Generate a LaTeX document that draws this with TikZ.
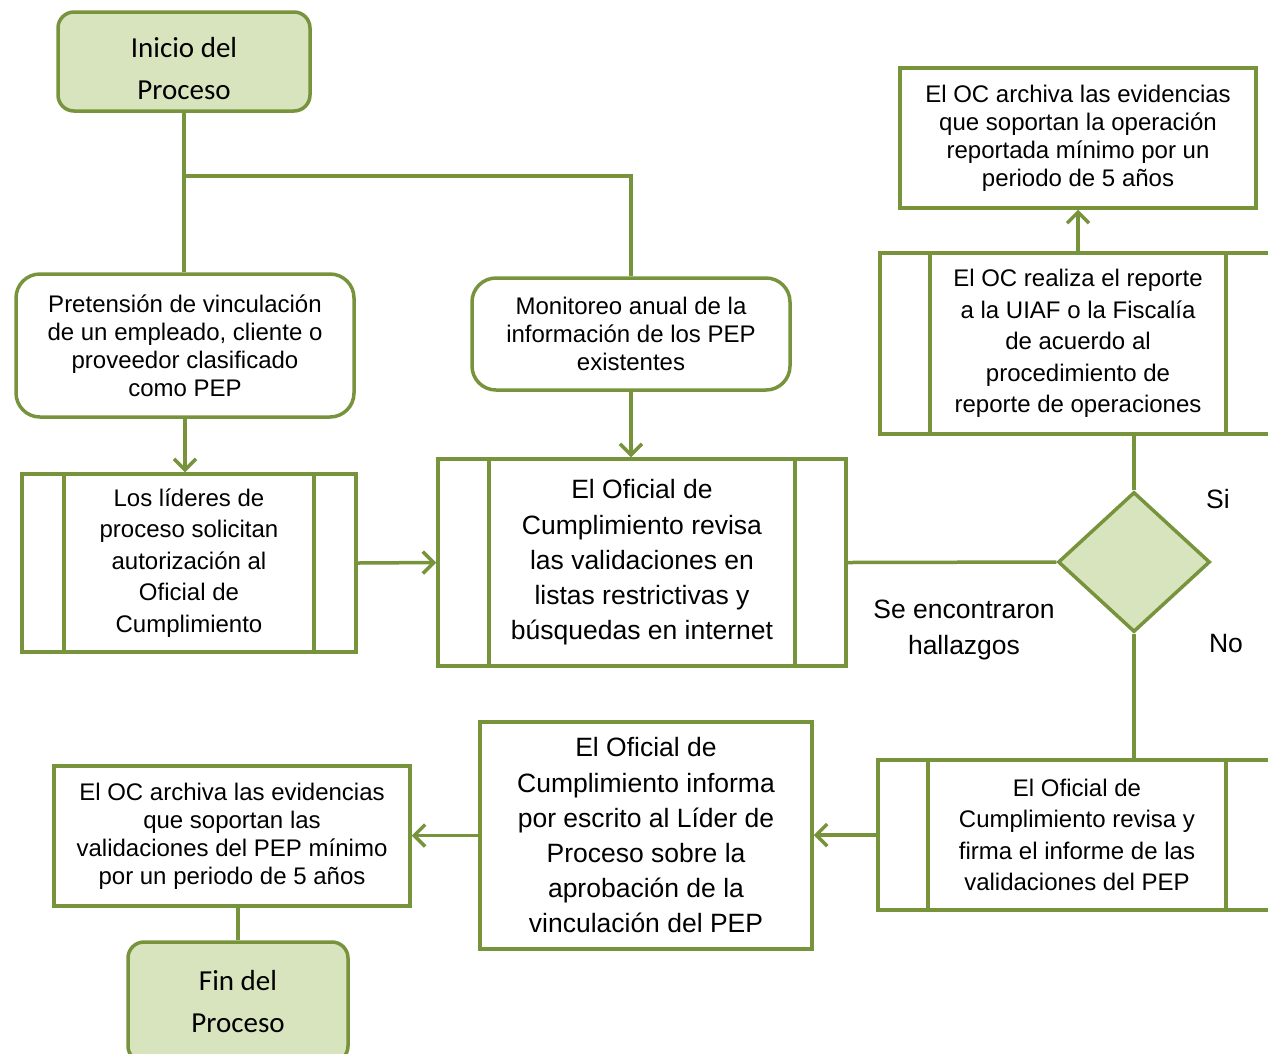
\documentclass[tikz,border=0pt]{standalone}
\usepackage{fontspec}
\setmainfont{Liberation Sans}
\newfontfamily\calibri{Carlito}
\usepackage{tikz}
\usetikzlibrary{positioning,%
  shapes.geometric,%
  arrows.meta,%
  calc}
\definecolor{oliva}{HTML}{77933C}
\definecolor{olivaclaro}{HTML}{D7E4BD}

\tikzset{
  linea/.style={draw=oliva, line width=3.5pt},
  flecha/.style={linea, -{Straight Barb[length=11pt,width=22pt,line width=3.5pt]}},
  terminal/.style={draw=oliva, line width=3.5pt, fill=olivaclaro, rounded corners=16pt,
    align=center, inner sep=0pt, font=\calibri\fontsize{29}{42}\selectfont},
  redondo/.style={draw=oliva, line width=3.5pt, rounded corners=24pt, align=center, inner sep=0pt},
  caja/.style={draw=oliva, line width=3.5pt, align=center, inner sep=0pt},
  proceso/.style={draw=oliva, line width=3.5pt, align=center, inner sep=0pt,
    path picture={\draw[oliva, line width=3.5pt]
      ([xshift=#1]path picture bounding box.north west) -- ([xshift=#1]path picture bounding box.south west)
      ([xshift=-#1]path picture bounding box.north east) -- ([xshift=-#1]path picture bounding box.south east);}},
  chico/.style={font=\fontsize{24}{28}\selectfont},
  medio/.style={font=\fontsize{24}{31.6}\selectfont},
  grande/.style={font=\fontsize{26.5}{35.2}\selectfont}
}

\begin{document}
\begin{tikzpicture}[x=1pt,y=-1pt]
  % Rahmen
  \useasboundingbox (0,0) rectangle (1268,1053);

  \node[terminal, minimum width=252pt, minimum height=99pt] (inicio) at (184,61.5) {\\[-8pt]Inicio del\\Proceso};
  \node[redondo, chico, minimum width=338pt, minimum height=143pt] (pretension) at (185,345.5)
    {Pretensión de vinculación\\de un empleado, cliente o\\proveedor clasificado\\como PEP};
  \node[redondo, chico, minimum width=318pt, minimum height=112pt] (monitoreo) at (631,334)
    {Monitoreo anual de la\\información de los PEP\\existentes};
  \node[proceso=42pt, medio, minimum width=334pt, minimum height=178pt] (lideres) at (189,563)
    {Los líderes de\\proceso solicitan\\autorización al\\Oficial de\\Cumplimiento};
  \node[proceso=51pt, grande, minimum width=408pt, minimum height=207pt] (revisa) at (642,562.5)
    {El Oficial de\\Cumplimiento revisa\\las validaciones en\\listas restrictivas y\\búsquedas en internet};
  \node[caja, chico, minimum width=356pt, minimum height=140pt] (archivaop) at (1078,138)
    {El OC archiva las evidencias\\que soportan la operación\\reportada mínimo por un\\periodo de 5 años};
  \node[proceso=50pt, medio, minimum width=396pt, minimum height=181pt] (reporte) at (1078,343.5)
    {El OC realiza el reporte\\a la UIAF o la Fiscalía\\de acuerdo al\\procedimiento de\\reporte de operaciones};
  \node[diamond, draw=oliva, line width=3.5pt, fill=olivaclaro, inner sep=0pt,
    minimum width=152pt, minimum height=140pt] (decision) at (1134,562) {};
  \node[proceso=50pt, medio, minimum width=398pt, minimum height=150pt] (firma) at (1077,835)
    {El Oficial de\\Cumplimiento revisa y\\firma el informe de las\\validaciones del PEP};
  \node[caja, grande, minimum width=332pt, minimum height=227pt] (informa) at (646,835.5)
    {El Oficial de\\Cumplimiento informa\\por escrito al Líder de\\Proceso sobre la\\aprobación de la\\vinculación del PEP};
  \node[caja, chico, minimum width=356pt, minimum height=140pt] (archivapep) at (232,836)
    {El OC archiva las evidencias\\que soportan las\\validaciones del PEP mínimo\\por un periodo de 5 años};
  \node[terminal, minimum width=220pt, minimum height=120pt] (fin) at (238,1002) {Fin del\\Proceso};

  % Beschriftungen
  \node[grande] (si) at (1218,499) {Si};
  \node[grande] (no) at (1226,643) {No};
  \node[grande, align=center] (hallazgos) at (964,630) {Se encontraron\\hallazgos};

  % Verbindungen
  \coordinate (rama) at (184,176);
  \draw[linea] (inicio.south) -- (rama) -- (pretension.north -| rama);
  \draw[linea] (rama) -| (monitoreo.north);
  \draw[flecha] (pretension.south) -- (pretension.south |- lideres.north);
  \draw[flecha] (monitoreo.south) -- (monitoreo.south |- revisa.north);
  \draw[flecha] (lideres.east) -- (revisa.west);
  \draw[linea] (revisa.east) -- (decision.west);
  \draw[linea] (decision.north) -- (decision.north |- reporte.south);
  \draw[flecha] (reporte.north) -- (archivaop.south);
  \draw[linea] (decision.south) -- (decision.south |- firma.north);
  \draw[flecha] (firma.west) -- (firma.west -| informa.east);
  \draw[flecha] (informa.west) -- (informa.west -| archivapep.east);
  \draw[linea] (fin.north |- archivapep.south) -- (fin.north);
\end{tikzpicture}
\end{document}
